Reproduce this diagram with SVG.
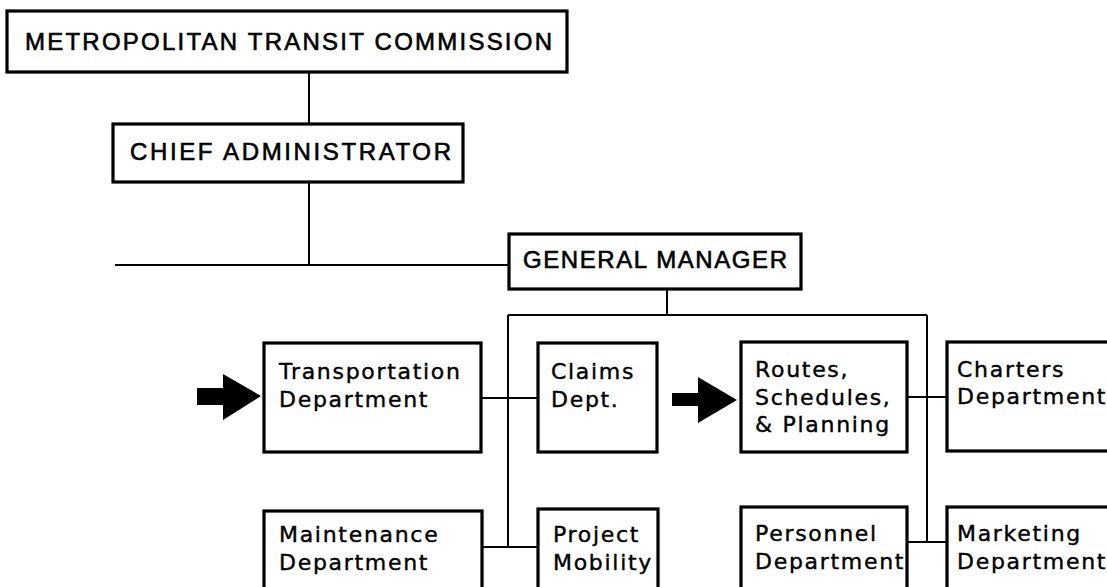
<svg xmlns="http://www.w3.org/2000/svg" width="1107" height="587" viewBox="0 0 1107 587">
<style>
.box{fill:#fff;stroke:#000;stroke-width:3.2}
.cap{font-family:"Liberation Sans",Arial,sans-serif;font-size:24px;fill:#000;stroke:#000;stroke-width:0.6}
.lbl{font-family:"DejaVu Sans",Verdana,sans-serif;font-size:22px;letter-spacing:1.7px;fill:#000;stroke:#000;stroke-width:0.4}
.ln{stroke:#000;stroke-width:2;fill:none}
.arrow{fill:#000}
</style>
<rect width="1107" height="587" fill="#fff"/>
<g id="connectors">
<path class="ln" d="M309,72 V124"/>
<path class="ln" d="M309,182 V265"/>
<path class="ln" d="M115,265 H509"/>
<path class="ln" d="M667,289 V315"/>
<path class="ln" d="M508,315 H927"/>
<path class="ln" d="M508,315 V547"/>
<path class="ln" d="M927,315 V543"/>
<path class="ln" d="M481,398 H538"/>
<path class="ln" d="M482,547 H538"/>
<path class="ln" d="M907,397 H947"/>
<path class="ln" d="M907,542 H947"/>
</g>
<g id="arrow-transportation">
<polygon class="arrow" points="197,388 223,388 223,374 261,396 223,420 223,405 197,405"/>
</g>
<g id="arrow-routes">
<polygon class="arrow" points="672,393 698,393 698,377 737,400 698,423 698,406 672,406"/>
</g>
<g id="node-mtc">
<rect class="box" x="7" y="11" width="560" height="61"/>
<text class="cap" x="25" y="50" textLength="527" lengthAdjust="spacing">METROPOLITAN TRANSIT COMMISSION</text>
</g>
<g id="node-chief">
<rect class="box" x="113" y="124" width="350" height="58"/>
<text class="cap" x="130" y="160" textLength="321" lengthAdjust="spacing">CHIEF ADMINISTRATOR</text>
</g>
<g id="node-gm">
<rect class="box" x="509" y="234" width="292" height="55"/>
<text class="cap" x="523" y="268" font-size="23" textLength="264" lengthAdjust="spacing">GENERAL MANAGER</text>
</g>
<g id="node-transportation">
<rect class="box" x="264" y="343" width="217" height="109"/>
<text class="lbl" x="279" y="379">Transportation</text>
<text class="lbl" x="279" y="407">Department</text>
</g>
<g id="node-claims">
<rect class="box" x="538" y="343" width="119" height="109"/>
<text class="lbl" x="551" y="379">Claims</text>
<text class="lbl" x="551" y="407">Dept.</text>
</g>
<g id="node-routes">
<rect class="box" x="741" y="342" width="166" height="110"/>
<text class="lbl" x="755" y="377">Routes,</text>
<text class="lbl" x="755" y="405">Schedules,</text>
<text class="lbl" x="755" y="432">&amp; Planning</text>
</g>
<g id="node-charters">
<rect class="box" x="947" y="342" width="170" height="109"/>
<text class="lbl" x="957" y="377">Charters</text>
<text class="lbl" x="957" y="404">Department</text>
</g>
<g id="node-maintenance">
<rect class="box" x="264" y="511" width="218" height="90"/>
<text class="lbl" x="279" y="542">Maintenance</text>
<text class="lbl" x="279" y="570">Department</text>
</g>
<g id="node-project">
<rect class="box" x="538" y="509" width="120" height="92"/>
<text class="lbl" x="553" y="542">Project</text>
<text class="lbl" x="553" y="570">Mobility</text>
</g>
<g id="node-personnel">
<rect class="box" x="741" y="507" width="166" height="94"/>
<text class="lbl" x="755" y="541">Personnel</text>
<text class="lbl" x="755" y="569">Department</text>
</g>
<g id="node-marketing">
<rect class="box" x="947" y="507" width="170" height="94"/>
<text class="lbl" x="957" y="541">Marketing</text>
<text class="lbl" x="957" y="569">Department</text>
</g>
</svg>
